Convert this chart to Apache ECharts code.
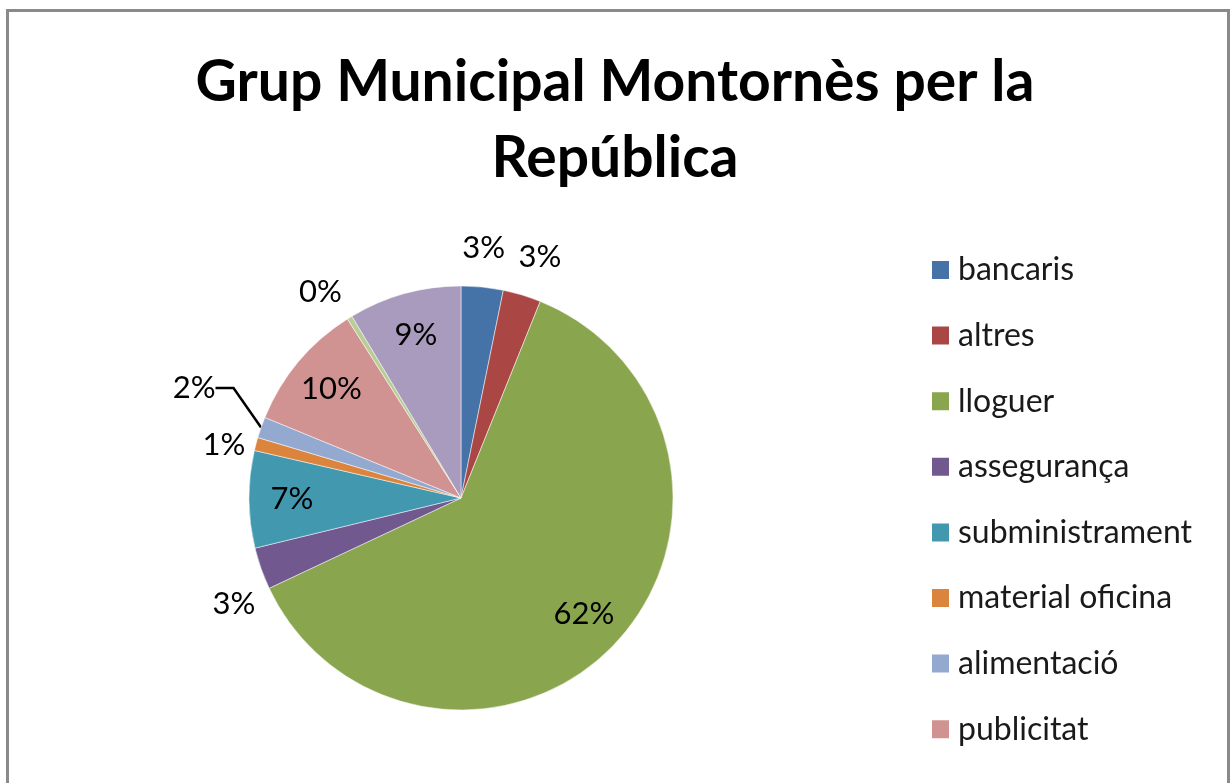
<!DOCTYPE html>
<html>
<head>
<meta charset="utf-8">
<title>Grup Municipal Montornès per la República</title>
<script src="https://cdn.jsdelivr.net/npm/echarts@6/dist/echarts.min.js"></script>
<style>
  html, body { margin: 0; padding: 0; background: #fff; }
  #chart { width: 1230px; height: 783px; }
  #frame {
    position: absolute; left: 6px; top: 9px; width: 1218px; height: 800px;
    border: 3px solid #8a8a8a; border-bottom: none; pointer-events: none;
  }
</style>
</head>
<body>
<div id="chart"></div>
<div id="frame"></div>
<script>
// despeses per concepte (percentatge aproximat llegit del gràfic)
const categories = ['bancaris', 'altres', 'lloguer', 'assegurança', 'subministrament',
  'material oficina', 'alimentació', 'publicitat', 'telèfon', 'personal'];
const values = [3.2, 2.9, 61.9, 3.2, 7.4, 1.0, 1.6, 9.8, 0.4, 8.6];
const colors = ['#4572A7', '#AA4643', '#89A54E', '#71588F', '#4198AF',
  '#DB843D', '#93A9CF', '#D19392', '#B9CD96', '#A99BBD'];
// etiquetes dins del pastís
const insideLabels = ['lloguer', 'subministrament', 'publicitat', 'personal'];
// només surten 8 entrades a la llegenda (la resta queda tallada)
const legendNames = categories.slice(0, 8);

// ajust de les etiquetes de fora: llargada de línia, distància, i petit desplaçament
const outsideLabelStyle = {
  'bancaris':         { len: 39, dist: -24 },
  'altres':           { len: 40, dist: -15 },
  'telèfon':          { len: 30, dist: -8 },
  'material oficina': { len: 10, dist: 1, dy: 4 },
  'assegurança':      { len: 20, dist: -13, dy: 29 },
  'alimentació':      { len: 25, len2: 18, dist: 5, dx: 1, dy: -31, line: true }
};

const chart = echarts.init(document.getElementById('chart'));

const fontFamily = 'Lato, "Open Sans", sans-serif';
const pct = p => Math.round(p.percent) + '%';

const mainData = categories.map((name, i) => {
  const s = outsideLabelStyle[name];
  const item = {
    name: name,
    value: values[i],
    itemStyle: { color: colors[i] },
    label: { show: !!s }
  };
  if (s) {
    item.label.distanceToLabelLine = s.dist;
    item.labelLine = {
      show: !!s.line,
      length: s.len,
      length2: s.len2 || 0,
      lineStyle: { color: '#000', width: 2.5 }
    };
  }
  return item;
});

const innerData = categories.map((name, i) => ({
  name: name,
  value: values[i],
  label: { show: insideLabels.includes(name) }
}));

chart.setOption({
  title: {
    text: 'Grup Municipal Montornès per la\nRepública',
    left: 'center',
    top: 40,
    textStyle: {
      fontFamily: fontFamily,
      fontWeight: 'bold',
      fontSize: 57,
      lineHeight: 76,
      color: '#000'
    }
  },
  legend: {
    orient: 'vertical',
    left: 925,
    top: 249,
    itemWidth: 19,
    itemHeight: 20,
    itemGap: 33.6,
    icon: 'rect',
    data: legendNames,
    textStyle: {
      fontFamily: fontFamily, fontSize: 32, lineHeight: 32,
      color: '#1a1a1a', padding: [0, 0, 0, 3]
    }
  },
  series: [
    {
      type: 'pie',
      center: [461, 498],
      radius: 212,
      startAngle: 90,
      clockwise: true,
      avoidLabelOverlap: false,
      animation: false,
      itemStyle: { borderColor: '#fff', borderWidth: 0.5 },
      label: {
        position: 'outside',
        formatter: pct,
        fontFamily: fontFamily,
        fontSize: 31,
        color: '#000'
      },
      labelLayout: function (params) {
        const s = outsideLabelStyle[categories[params.dataIndex]];
        if (!s) return {};
        if (s.line) {
          // moure l'etiqueta i deixar que la línia es torni a traçar
          const r = params.labelRect;
          return {
            x: r.x + r.width + s.dx,
            y: r.y + r.height / 2 + s.dy,
            align: 'right',
            verticalAlign: 'middle'
          };
        }
        return { dx: s.dx || 0, dy: s.dy || 0 };
      },
      data: mainData
    },
    {
      type: 'pie',
      center: [461, 498],
      radius: [120, 212],
      startAngle: 90,
      clockwise: true,
      silent: true,
      animation: false,
      itemStyle: { color: 'rgba(0,0,0,0)' },
      label: {
        position: 'inside',
        formatter: pct,
        fontFamily: fontFamily,
        fontSize: 31,
        color: '#000'
      },
      labelLine: { show: false },
      data: innerData
    }
  ]
});
</script>
</body>
</html>
